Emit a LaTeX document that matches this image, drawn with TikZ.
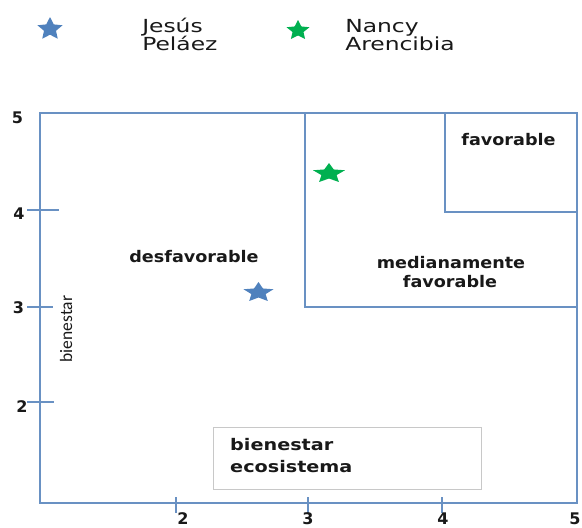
\documentclass[tikz,border=0pt]{standalone}
\usepackage{fontspec}
\setmainfont{DejaVu Sans}
\newfontfamily\narrowfont{Carlito}
\usetikzlibrary{shapes.geometric}
\definecolor{axisblue}{RGB}{105,145,195}
\definecolor{starblue}{RGB}{79,129,189}
\definecolor{stargreen}{RGB}{0,176,80}
\definecolor{boxgray}{RGB}{200,200,200}
\definecolor{txt}{RGB}{25,25,25}
\tikzset{
  axisline/.style={draw=axisblue, line width=1.2pt},
  ticklab/.style={font=\bfseries\fontsize{16}{16}\selectfont, text=txt, inner sep=0pt},
  zonelab/.style={font=\bfseries\fontsize{16}{16}\selectfont, text=txt, inner sep=0pt, anchor=base, xscale=1.1},
  legendlab/.style={font=\fontsize{18}{18}\selectfont, text=txt, inner sep=0pt, anchor=base west, xscale=1.3},
  boxlab/.style={font=\bfseries\fontsize{16}{16}\selectfont, text=txt, inner sep=0pt, anchor=base west, xscale=1.2},
  starmark/.style={star, star points=5, star point ratio=2.1, inner sep=0pt},
}
\begin{document}
\begin{tikzpicture}[x=1pt,y=-1pt]
\useasboundingbox[fill=white] (0,0) rectangle (582,528);
% legend
\node[starmark, fill=starblue, minimum size=24pt, xscale=1.1] (s1) at (50,29) {};
\node[legendlab] (l1a) at (142,32) {Jesús};
\node[legendlab] (l1b) at (142,50) {Peláez};
\node[starmark, fill=stargreen, minimum size=21pt, xscale=1.15] (s2) at (298,30.5) {};
\node[legendlab] (l2a) at (345,32) {Nancy};
\node[legendlab] (l2b) at (345,50) {Arencibia};
% frame
\draw[axisline] (40,113) rectangle (577,503);
\draw[axisline] (305,113) rectangle (577,307);
\draw[axisline] (445,113) rectangle (577,212);
% y ticks
\draw[axisline] (27,210) -- (59,210);
\draw[axisline] (27,307) -- (53,307);
\draw[axisline] (27,402) -- (54,402);
% x ticks
\draw[axisline] (176,497) -- (176,513);
\draw[axisline] (308,497) -- (308,513);
\draw[axisline] (442,497) -- (442,513);
% tick labels
\node[ticklab] (y5) at (17.5,117.5) {5};
\node[ticklab] (y4) at (19,214) {4};
\node[ticklab] (y3) at (18.5,308) {3};
\node[ticklab] (y2) at (22,407) {2};
\node[ticklab] (x2) at (183,518.5) {2};
\node[ticklab] (x3) at (308,518.5) {3};
\node[ticklab] (x4) at (443,518.5) {4};
\node[ticklab] (x5) at (575,518.5) {5};
% zone labels
\node[zonelab] (dz) at (194,262) {desfavorable};
\node[zonelab] (mz1) at (451,268) {medianamente};
\node[zonelab] (mz2) at (450,287) {favorable};
\node[zonelab] (fz) at (508.5,145) {favorable};
\node[rotate=90, font=\narrowfont\fontsize{17.5}{17.5}\selectfont, text=txt, inner sep=0pt] (yl) at (66,329) {bienestar};
% stars
\node[starmark, fill=stargreen, minimum size=21pt, xscale=1.6] (p2) at (329,173.5) {};
\node[starmark, fill=starblue, minimum size=21pt, xscale=1.5] (p1) at (258.5,292.5) {};
% bottom box
\draw[boxgray, line width=1pt, fill=white] (213,427) rectangle (481,489);
\node[boxlab] (b1) at (230,450) {bienestar};
\node[boxlab] (b2) at (230,472) {ecosistema};
\end{tikzpicture}
\end{document}
